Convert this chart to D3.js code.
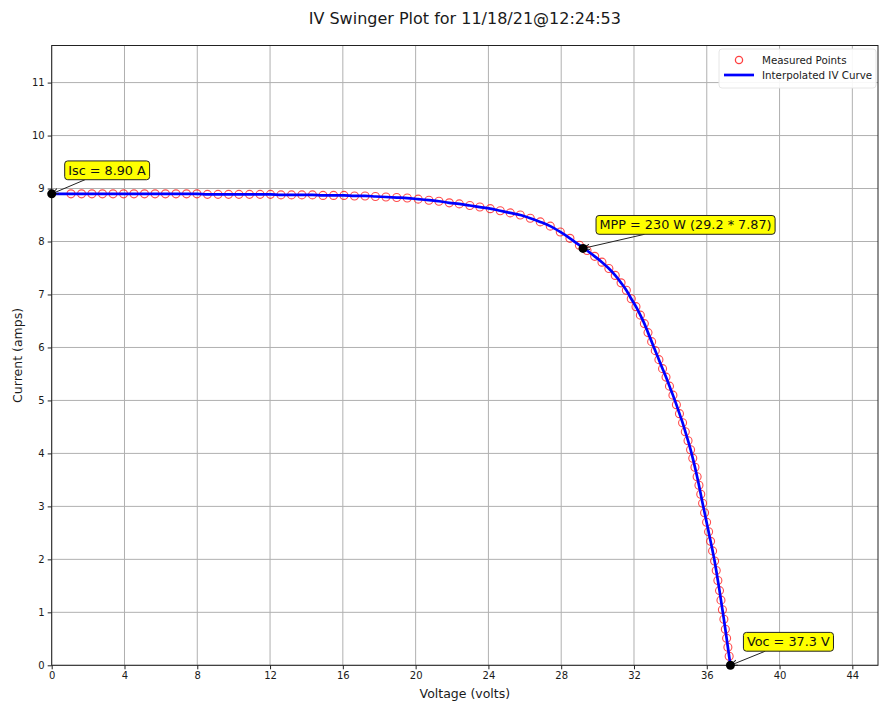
<!DOCTYPE html>
<html>
<head>
<meta charset="utf-8">
<script src="https://cdn.jsdelivr.net/npm/d3@7"></script>
<style>
  html, body { margin: 0; padding: 0; background: #ffffff; }
  svg { display: block; font-family: "DejaVu Sans", sans-serif; }
</style>
</head>
<body>
<svg id="chart" width="879" height="702"></svg>
<script>
// IV curve: measured [volts, amps] samples
const measuredPoints = [
  [1.06, 8.90], [1.64, 8.90], [2.21, 8.90], [2.79, 8.90], [3.37, 8.90],
  [3.95, 8.90], [4.52, 8.90], [5.10, 8.90], [5.68, 8.90], [6.25, 8.90],
  [6.83, 8.90], [7.41, 8.90], [7.98, 8.90], [8.56, 8.89], [9.14, 8.89],
  [9.72, 8.89], [10.29, 8.89], [10.87, 8.89], [11.45, 8.89], [12.02, 8.89],
  [12.60, 8.88], [13.18, 8.88], [13.75, 8.88], [14.33, 8.88], [14.91, 8.87],
  [15.49, 8.87], [16.06, 8.87], [16.64, 8.86], [17.22, 8.86], [17.79, 8.85],
  [18.37, 8.84], [18.96, 8.83], [19.54, 8.82], [20.14, 8.80], [20.73, 8.78],
  [21.28, 8.76], [21.85, 8.73], [22.40, 8.71], [22.98, 8.68], [23.53, 8.65],
  [24.10, 8.62], [24.65, 8.58], [25.20, 8.54], [25.75, 8.50], [26.30, 8.44],
  [26.85, 8.37], [27.40, 8.29], [27.95, 8.18], [28.48, 8.06], [29.00, 7.93],
  [29.42, 7.83], [29.84, 7.72], [30.24, 7.61], [30.62, 7.49], [30.97, 7.36],
  [31.29, 7.22], [31.58, 7.08], [31.85, 6.92], [32.11, 6.77], [32.35, 6.61],
  [32.57, 6.45], [32.77, 6.28], [32.97, 6.11], [33.17, 5.94], [33.37, 5.77],
  [33.57, 5.60], [33.76, 5.44], [33.95, 5.27], [34.14, 5.10], [34.33, 4.92],
  [34.50, 4.75], [34.67, 4.58], [34.82, 4.41], [34.97, 4.24], [35.11, 4.07],
  [35.23, 3.91], [35.35, 3.74], [35.47, 3.56], [35.57, 3.40], [35.67, 3.23],
  [35.77, 3.06], [35.88, 2.88], [35.99, 2.70], [36.10, 2.52], [36.21, 2.34],
  [36.32, 2.16], [36.43, 1.97], [36.52, 1.79], [36.61, 1.60], [36.70, 1.41],
  [36.78, 1.23], [36.86, 1.05], [36.94, 0.87], [37.02, 0.68], [37.09, 0.51],
  [37.16, 0.34], [37.23, 0.17]
];

// Key operating points
const isc = { v: 0, i: 8.90 };
const mpp = { v: 29.2, i: 7.87 };
const voc = { v: 37.3, i: 0 };

const xTicks = [0, 4, 8, 12, 16, 20, 24, 28, 32, 36, 40, 44];
const yTicks = [0, 1, 2, 3, 4, 5, 6, 7, 8, 9, 10, 11];

const titleText = "IV Swinger Plot for 11/18/21@12:24:53";
const xLabel = "Voltage (volts)";
const yLabel = "Current (amps)";
const legendLabels = ["Measured Points", "Interpolated IV Curve"];

// Layout
const plot = { left: 51.7, right: 878, top: 45.5, bottom: 665.3 };
const svg = d3.select("#chart");

const x = d3.scaleLinear().domain([0, 45.41]).range([plot.left, plot.right]);
const y = d3.scaleLinear().domain([0, 11.7]).range([plot.bottom, plot.top]);

const textColor = "#1a1a1a";

// Grid
const grid = svg.append("g").attr("stroke", "#b0b0b0").attr("stroke-width", 1);
grid.selectAll("line.gx").data(xTicks).join("line")
  .attr("x1", d => x(d)).attr("x2", d => x(d))
  .attr("y1", plot.top).attr("y2", plot.bottom);
grid.selectAll("line.gy").data(yTicks).join("line")
  .attr("x1", plot.left).attr("x2", plot.right)
  .attr("y1", d => y(d)).attr("y2", d => y(d));

// Axes
const xAxis = svg.append("g")
  .attr("transform", `translate(0,${plot.bottom})`)
  .call(d3.axisBottom(x).tickValues(xTicks).tickSize(4).tickPadding(3).tickFormat(d3.format("d")));
const yAxis = svg.append("g")
  .attr("transform", `translate(${plot.left},0)`)
  .call(d3.axisLeft(y).tickValues(yTicks).tickSize(4).tickPadding(3).tickFormat(d3.format("d")));
[xAxis, yAxis].forEach(a => {
  a.select(".domain").remove();
  a.selectAll(".tick line").attr("stroke", "#222");
  a.selectAll(".tick text").attr("fill", textColor)
    .style("font-family", "DejaVu Sans").style("font-size", "10px");
});

// Frame
svg.append("rect")
  .attr("x", plot.left).attr("y", plot.top)
  .attr("width", plot.right - plot.left).attr("height", plot.bottom - plot.top)
  .attr("fill", "none").attr("stroke", "#222").attr("stroke-width", 1);

// Measured points (open red circles)
svg.append("g")
  .selectAll("circle").data(measuredPoints).join("circle")
  .attr("cx", d => x(d[0])).attr("cy", d => y(d[1]))
  .attr("r", 4)
  .attr("fill", "none").attr("stroke", "#ff0000").attr("stroke-opacity", 0.7).attr("stroke-width", 1.1);

// Interpolated curve through Isc, samples and Voc
const curvePoints = [[isc.v, isc.i], ...measuredPoints, [voc.v, voc.i]];
svg.append("path")
  .datum(curvePoints)
  .attr("d", d3.line().x(d => x(d[0])).y(d => y(d[1])).curve(d3.curveMonotoneX))
  .attr("fill", "none").attr("stroke", "#0000ff").attr("stroke-width", 2.7);

// Arrowhead marker
svg.append("defs").append("marker")
  .attr("id", "arrow").attr("viewBox", "0 0 10 10")
  .attr("refX", 10).attr("refY", 5)
  .attr("markerWidth", 7).attr("markerHeight", 7)
  .attr("markerUnits", "userSpaceOnUse")
  .attr("orient", "auto")
  .append("path").attr("d", "M0,1 L10,5 L0,9")
  .attr("fill", "none").attr("stroke", "#222").attr("stroke-width", 1.4);

// Annotations
const annotations = [
  { pt: isc, text: `Isc = ${isc.i.toFixed(2)} A` },
  { pt: mpp, text: `MPP = ${Math.round(mpp.v * mpp.i)} W (${mpp.v.toFixed(1)} * ${mpp.i.toFixed(2)})` },
  { pt: voc, text: `Voc = ${voc.v.toFixed(1)} V` }
];

const annG = svg.append("g");
annotations.forEach(a => {
  const px = x(a.pt.v), py = y(a.pt.i);
  const g = annG.append("g");
  const line = g.append("line");
  const rect = g.append("rect");
  const t = g.append("text")
    .attr("x", px + 16.5).attr("y", py - 23.5)
    .attr("dominant-baseline", "central")
    .attr("fill", "#111")
    .style("font-size", "12.8px")
    .text(a.text);
  const bb = t.node().getBBox();
  const padX = 3.5;
  const bx = bb.x - padX, by = py - 23.5 - 9.4, bw = bb.width + 2 * padX, bh = 18.8;
  rect.attr("x", bx).attr("y", by).attr("width", bw).attr("height", bh)
    .attr("rx", 3).attr("ry", 3)
    .attr("fill", "#ffff00").attr("stroke", "#222").attr("stroke-width", 1);
  // arrow from box centre toward the point, starting at the box edge
  const cx = bx + bw / 2, cy = by + bh / 2;
  const dx = px - cx, dy = py - cy;
  const tEdge = Math.min((bw / 2) / Math.abs(dx), (bh / 2) / Math.abs(dy));
  line.attr("x1", cx + dx * tEdge).attr("y1", cy + dy * tEdge)
    .attr("x2", px).attr("y2", py)
    .attr("stroke", "#222").attr("stroke-width", 1)
    .attr("marker-end", "url(#arrow)");
  g.append("circle").attr("cx", px).attr("cy", py).attr("r", 4.5).attr("fill", "#000");
});

// Legend
const lg = svg.append("g");
lg.append("rect")
  .attr("x", 719).attr("y", 49).attr("width", 157).attr("height", 39)
  .attr("rx", 3).attr("fill", "#ffffff").attr("fill-opacity", 0.9)
  .attr("stroke", "#e6e6e6").attr("stroke-width", 1);
lg.append("circle").attr("cx", 739).attr("cy", 60).attr("r", 3.6)
  .attr("fill", "none").attr("stroke", "#ff0000").attr("stroke-opacity", 0.75).attr("stroke-width", 1.3);
lg.append("line").attr("x1", 724).attr("x2", 754).attr("y1", 75).attr("y2", 75)
  .attr("stroke", "#0000ff").attr("stroke-width", 2.7);
lg.selectAll("text").data(legendLabels).join("text")
  .attr("x", 762).attr("y", (d, i) => 60 + i * 15)
  .attr("dominant-baseline", "central")
  .attr("fill", textColor)
  .style("font-size", "10.3px")
  .text(d => d);

// Titles
svg.append("text")
  .attr("x", (plot.left + plot.right) / 2).attr("y", 18)
  .attr("text-anchor", "middle").attr("dominant-baseline", "central")
  .attr("fill", textColor).style("font-size", "16px")
  .text(titleText);
svg.append("text")
  .attr("x", (plot.left + plot.right) / 2).attr("y", 693)
  .attr("text-anchor", "middle").attr("dominant-baseline", "central")
  .attr("fill", textColor).style("font-size", "12.5px")
  .text(xLabel);
svg.append("text")
  .attr("transform", `translate(17,${(plot.top + plot.bottom) / 2}) rotate(-90)`)
  .attr("text-anchor", "middle").attr("dominant-baseline", "central")
  .attr("fill", textColor).style("font-size", "12.5px")
  .text(yLabel);
</script>
</body>
</html>
